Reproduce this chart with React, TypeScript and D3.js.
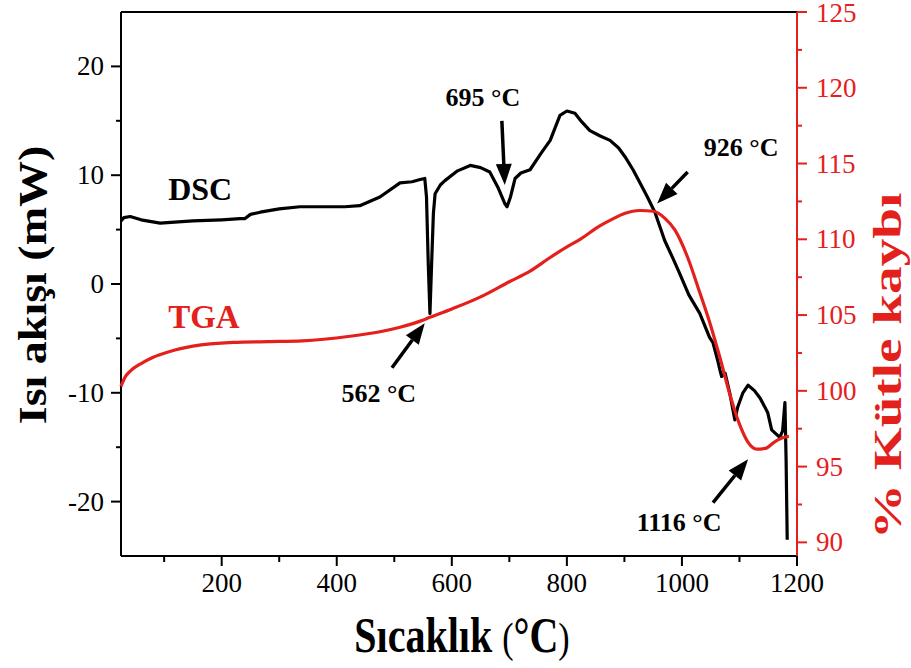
import React from "react";
import * as d3 from "d3";

// DSC heat flow (mW) vs temperature (°C)
const dscTemp = [25, 30, 41, 60, 93, 150, 200, 232, 240, 250, 267, 300, 336, 414, 440, 475, 510, 531, 545, 553, 556, 559, 562, 565, 568, 571, 580, 588, 610, 632, 650, 666, 680, 692, 696, 702, 710, 720, 736, 755, 771, 788, 800, 814, 826, 840, 858, 875, 890, 901, 915, 927, 940, 953, 970, 984, 995, 1012, 1031, 1048, 1054, 1062, 1066, 1069, 1075, 1083, 1092, 1097, 1106, 1115, 1126, 1136, 1149, 1156, 1170, 1175, 1179, 1181, 1183];
const dscValue = [5.8, 6.1, 6.2, 5.9, 5.6, 5.8, 5.9, 6.0, 6.0, 6.4, 6.6, 6.9, 7.1, 7.1, 7.2, 8.0, 9.3, 9.4, 9.6, 9.7, 8.0, 2.0, -2.7, 2.0, 6.5, 8.3, 9.1, 9.5, 10.4, 10.9, 10.7, 10.3, 8.9, 7.4, 7.1, 8.0, 9.7, 10.2, 10.5, 12.0, 13.2, 15.5, 15.9, 15.7, 14.9, 14.1, 13.6, 13.2, 12.5, 11.7, 10.5, 9.3, 8.0, 6.6, 4.0, 2.4, 1.1, -1.0, -2.7, -4.9, -5.4, -7.0, -7.9, -8.5, -8.2, -10.0, -12.5, -11.3, -10.0, -9.3, -9.8, -10.5, -11.8, -13.4, -14.1, -13.5, -10.9, -16, -23.5];

// TGA mass (%) vs temperature (°C)
const tgaTemp = [25, 32, 41, 60, 80, 110, 150, 220, 280, 340, 423, 475, 510, 545, 562, 600, 650, 700, 736, 771, 800, 823, 858, 880, 900, 927, 950, 970, 988, 1010, 1030, 1050, 1066, 1083, 1100, 1115, 1130, 1145, 1160, 1175, 1186];
const tgaValue = [100.3, 100.9, 101.3, 101.8, 102.2, 102.6, 102.95, 103.2, 103.25, 103.3, 103.6, 103.9, 104.2, 104.6, 104.85, 105.4, 106.2, 107.2, 107.9, 108.8, 109.5, 110.0, 110.9, 111.35, 111.7, 111.9, 111.85, 111.4, 110.6, 108.8, 106.6, 104.3, 102.2, 99.8, 97.8, 96.6, 96.15, 96.2, 96.6, 96.9, 97.0];

const xTicks = [200, 400, 600, 800, 1000, 1200];
const leftTicks = [-20, -10, 0, 10, 20];
const rightTicks = [90, 95, 100, 105, 110, 115, 120, 125];

// annotations in data units (temperature, heat flow)
const notes = [
  { label: "695 °C", lx: 654, ly: 16.4, from: [687, 15.0], to: [692, 9.1] },
  { label: "926 °C", lx: 1103, ly: 11.8, from: [1010, 10.3], to: [957, 7.4] },
  { label: "562 °C", lx: 473, ly: -10.8, from: [496, -7.7], to: [553, -3.6] },
  { label: "1116 °C", lx: 995, ly: -22.7, from: [1054, -20.1], to: [1115, -16.1] },
];

const RED = "#e4201c";
const FONT = "'Liberation Serif', 'Times New Roman', serif";

const W = 911;
const H = 668;
const M = { left: 121, right: 797, top: 12, bottom: 556 };

export default function App() {
  const x = d3.scaleLinear().domain([25, 1200]).range([M.left, M.right]);
  const yL = d3.scaleLinear().domain([-25, 25]).range([M.bottom, M.top]);
  const yR = d3.scaleLinear().domain([89.1, 125]).range([M.bottom, M.top]);

  const dscPts: [number, number][] = dscTemp.map((t, i) => [t, dscValue[i]]);
  const tgaPts: [number, number][] = tgaTemp.map((t, i) => [t, tgaValue[i]]);

  const dscLine = d3
    .line<[number, number]>()
    .x((d) => x(d[0]))
    .y((d) => yL(d[1]));
  const tgaLine = d3
    .line<[number, number]>()
    .x((d) => x(d[0]))
    .y((d) => yR(d[1]))
    .curve(d3.curveMonotoneX);

  const xMinor = d3.range(100, 1200, 200);
  const leftMinor = [-15, -5, 5, 15];
  const rightMinor = d3.range(92.5, 125, 5);

  const arrow = (n, i) => {
    const x1 = x(n.from[0]);
    const y1 = yL(n.from[1]);
    const x2 = x(n.to[0]);
    const y2 = yL(n.to[1]);
    const ang = Math.atan2(y2 - y1, x2 - x1);
    const hl = 21;
    const hw = 8;
    const bx = x2 - hl * Math.cos(ang);
    const by = y2 - hl * Math.sin(ang);
    const px = -Math.sin(ang) * hw;
    const py = Math.cos(ang) * hw;
    return (
      <g key={i}>
        <line x1={x1} y1={y1} x2={bx} y2={by} stroke="#000" strokeWidth={3.5} />
        <path d={`M${x2},${y2}L${bx + px},${by + py}L${bx - px},${by - py}Z`} fill="#000" />
        <text x={x(n.lx)} y={yL(n.ly)} textAnchor="middle" fontSize={26} fontWeight="bold" fill="#000">
          {n.label}
        </text>
      </g>
    );
  };

  return (
    <svg width={W} height={H} style={{ position: "absolute", left: 0, top: 0, background: "#fff" }} fontFamily={FONT}>
      <rect width={W} height={H} fill="#fff" />

      {/* frame */}
      <line x1={M.left} x2={M.right} y1={M.top} y2={M.top} stroke="#000" strokeWidth={2} />
      <line x1={M.left} x2={M.right} y1={M.bottom} y2={M.bottom} stroke="#000" strokeWidth={2} />
      <line x1={M.left} x2={M.left} y1={M.top} y2={M.bottom} stroke="#000" strokeWidth={2} />
      <line x1={M.right} x2={M.right} y1={M.top} y2={M.bottom} stroke={RED} strokeWidth={2} />

      {/* bottom axis */}
      {xTicks.map((t) => (
        <g key={"x" + t}>
          <line x1={x(t)} x2={x(t)} y1={M.bottom} y2={M.bottom + 10} stroke="#000" strokeWidth={2} />
          <text x={x(t)} y={592} textAnchor="middle" fontSize={27} fill="#000">
            {t}
          </text>
        </g>
      ))}
      {xMinor.map((t) => (
        <line key={"xm" + t} x1={x(t)} x2={x(t)} y1={M.bottom} y2={M.bottom + 6} stroke="#000" strokeWidth={2} />
      ))}

      {/* left axis */}
      {leftTicks.map((t) => (
        <g key={"l" + t}>
          <line x1={M.left - 10} x2={M.left} y1={yL(t)} y2={yL(t)} stroke="#000" strokeWidth={2} />
          <text x={104} y={yL(t) + 9} textAnchor="end" fontSize={27} fill="#000">
            {t}
          </text>
        </g>
      ))}
      {leftMinor.map((t) => (
        <line key={"lm" + t} x1={M.left - 5} x2={M.left} y1={yL(t)} y2={yL(t)} stroke="#000" strokeWidth={2} />
      ))}

      {/* right axis */}
      {rightTicks.map((t) => (
        <g key={"r" + t}>
          <line x1={M.right} x2={M.right + 10} y1={yR(t)} y2={yR(t)} stroke={RED} strokeWidth={2} />
          <text x={816} y={yR(t) + (t === 125 ? 10 : 9)} textAnchor="start" fontSize={27} fill={RED}>
            {t}
          </text>
        </g>
      ))}
      {rightMinor.map((t) => (
        <line key={"rm" + t} x1={M.right} x2={M.right + 5} y1={yR(t)} y2={yR(t)} stroke={RED} strokeWidth={2} />
      ))}

      {/* curves */}
      <path d={dscLine(dscPts) || ""} fill="none" stroke="#000" strokeWidth={3.2} strokeLinejoin="round" />
      <path d={tgaLine(tgaPts) || ""} fill="none" stroke={RED} strokeWidth={3.2} />

      {/* series labels */}
      <text x={x(107)} y={yL(7.7)} fontSize={32} fontWeight="bold" fill="#000">
        DSC
      </text>
      <text x={x(107)} y={yL(-4.0)} fontSize={33} fontWeight="bold" fill={RED}>
        TGA
      </text>

      {notes.map(arrow)}

      {/* axis titles */}
      <g transform="translate(462,652) scale(1,1.25)">
        <text textAnchor="middle" fontSize={40} fontWeight="bold" fill="#000">
          Sıcaklık <tspan fontWeight="normal" fontSize={34}>(</tspan>°C<tspan fontWeight="normal" fontSize={34}>)</tspan>
        </text>
      </g>
      <g transform="translate(46,285) rotate(-90) scale(1.15,1)">
        <text textAnchor="middle" fontSize={40} fontWeight="bold" fill="#000">
          Isı akışı (mW)
        </text>
      </g>
      <g transform="translate(901,366) rotate(-90) scale(1.38,1)">
        <text textAnchor="middle" fontSize={40} fontWeight="bold" fill={RED}>
          % Kütle kaybı
        </text>
      </g>
    </svg>
  );
}
